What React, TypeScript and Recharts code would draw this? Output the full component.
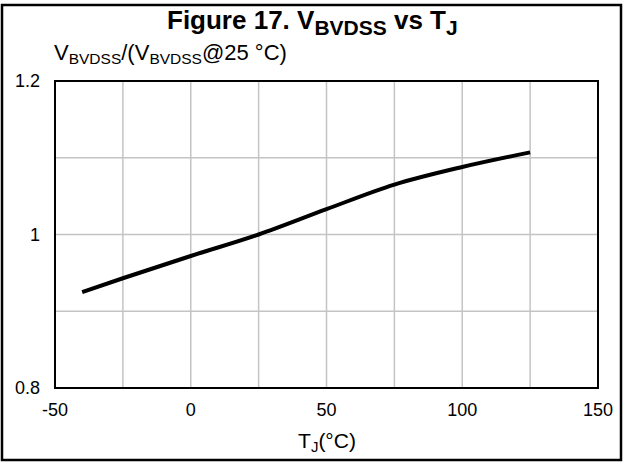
import React from "react";
import {
  LineChart,
  Line,
  XAxis,
  YAxis,
  CartesianGrid,
  ReferenceArea,
} from "recharts";

// junction temperature (°C) vs normalized breakdown voltage
const temps = [-40, -25, 0, 25, 50, 75, 100, 125];
const ratio = [0.925, 0.943, 0.972, 1.0, 1.033, 1.065, 1.088, 1.107];

const xTicks = [-50, -25, 0, 25, 50, 75, 100, 125, 150];
const xLabeled = [-50, 0, 50, 100, 150];
const yTicks = [0.8, 0.9, 1.0, 1.1, 1.2];
const yLabeled = [0.8, 1.0, 1.2];

const data = temps.map((t, i) => ({ t, v: ratio[i] }));

const FONT = "'Liberation Sans', Arial, sans-serif";
const W = 625;
const H = 463;

export default function App() {
  return (
    <div style={{ position: "absolute", left: 0, top: 0, width: W, height: H, background: "#fff" }}>
      <LineChart
        width={W}
        height={H}
        data={data}
        margin={{ top: 81, right: 27, left: 0, bottom: 45 }}
      >
        <CartesianGrid stroke="#c4c4c4" strokeWidth={1.5} />
        <XAxis
          dataKey="t"
          type="number"
          domain={[-50, 150]}
          ticks={xTicks}
          tickFormatter={(v: number) => (xLabeled.includes(v) ? String(v) : "")}
          axisLine={false}
          tickLine={false}
          tickSize={0}
          tickMargin={15}
          height={30}
          tick={{ fontSize: 18, fill: "#000", fontFamily: FONT }}
          interval={0}
        />
        <YAxis
          type="number"
          domain={[0.8, 1.2]}
          ticks={yTicks}
          tickFormatter={(v: number) =>
            yLabeled.some((l) => Math.abs(l - v) < 1e-9) ? String(v) : ""
          }
          axisLine={false}
          tickLine={false}
          tickSize={0}
          tickMargin={15}
          width={55}
          tick={{ fontSize: 18, fill: "#000", fontFamily: FONT }}
          interval={0}
        />
        <ReferenceArea
          x1={-50}
          x2={150}
          y1={0.8}
          y2={1.2}
          fill="none"
          fillOpacity={0}
          stroke="#000"
          strokeWidth={2}
          ifOverflow="visible"
        />
        <Line
          type="monotone"
          dataKey="v"
          stroke="#000"
          strokeWidth={4}
          dot={false}
          isAnimationActive={false}
        />
      </LineChart>
      <svg
        width={W}
        height={H}
        style={{ position: "absolute", left: 0, top: 0, pointerEvents: "none" }}
        fontFamily={FONT}
      >
        <rect x={2} y={5} width={619} height={455} fill="none" stroke="#000" strokeWidth={2.5} />
        <text x={167} y={29} fontSize={26} fontWeight="bold" fill="#000">
          Figure 17. V
          <tspan fontSize={21} dy={6}>BVDSS</tspan>
          <tspan dy={-6}> vs T</tspan>
          <tspan fontSize={21} dy={6}>J</tspan>
        </text>
        <text x={54} y={60} fontSize={22} fill="#000">
          V
          <tspan fontSize={15.5} dy={4}>BVDSS</tspan>
          <tspan dy={-4}>/(V</tspan>
          <tspan fontSize={15.5} dy={4}>BVDSS</tspan>
          <tspan dy={-4}>@25 °C)</tspan>
        </text>
        <text x={327} y={448} fontSize={21} fill="#000" textAnchor="middle">
          T
          <tspan fontSize={15} dy={4}>J</tspan>
          <tspan dy={-4}>(°C)</tspan>
        </text>
      </svg>
    </div>
  );
}
